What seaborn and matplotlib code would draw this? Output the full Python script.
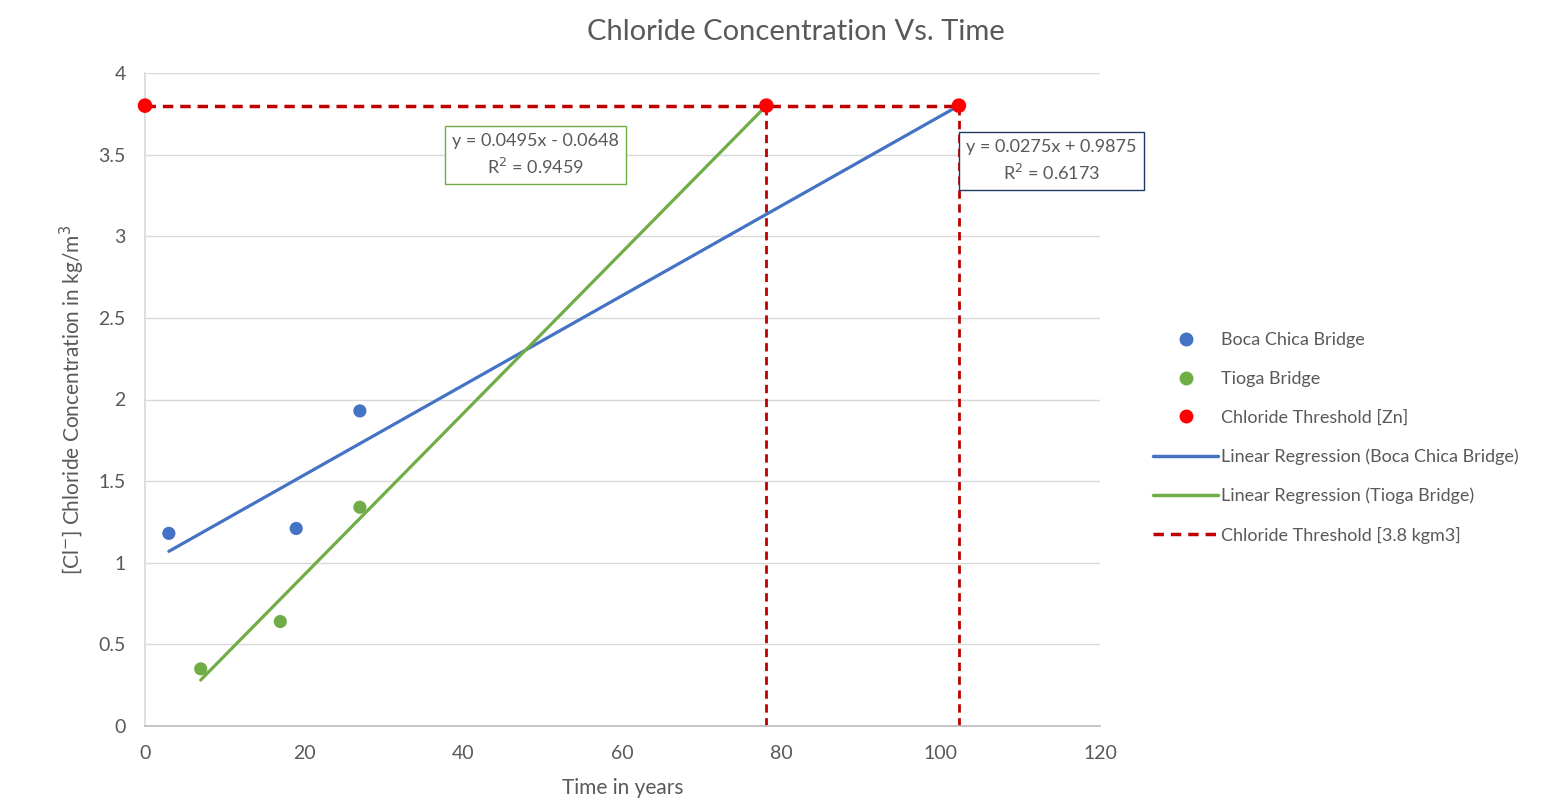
import matplotlib
matplotlib.use("Agg")
import matplotlib.pyplot as plt
import seaborn as sns
import numpy as np
import pandas as pd
from matplotlib.lines import Line2D

# ---- data ----
boca_years = [3, 19, 27]
boca_cl = [1.18, 1.21, 1.93]
tioga_years = [7, 17, 27]
tioga_cl = [0.35, 0.64, 1.34]
threshold_years = [0, 78.08, 102.27]
threshold_cl = [3.8, 3.8, 3.8]

boca_fit = (0.0275, 0.9875)     # slope, intercept
tioga_fit = (0.0495, -0.0648)
boca_fit_range = [3, 102.27]
tioga_fit_range = [7, 78.08]
threshold = 3.8

x_ticks = [0, 20, 40, 60, 80, 100, 120]
y_ticks = [0, 0.5, 1, 1.5, 2, 2.5, 3, 3.5, 4]

sns.set_theme(style="white")
plt.rcParams['font.family'] = ['Lato', 'DejaVu Sans']

TXT = "#595959"
BLUE = "#4472C4"
GREEN = "#70AD47"
RED = "#FF0000"
DRED = "#C00000"

fig = plt.figure(figsize=(15.5, 8.02), dpi=100)
ax = fig.add_axes([145/1550, 1-726/802, (1100-145)/1550, (726-73)/802])

# regression lines
bx = np.array(boca_fit_range)
tx = np.array(tioga_fit_range)
sns.lineplot(x=bx, y=boca_fit[0]*bx + boca_fit[1], ax=ax, color=BLUE, lw=2.3, zorder=3)
sns.lineplot(x=tx, y=tioga_fit[0]*tx + tioga_fit[1], ax=ax, color=GREEN, lw=2.3, zorder=3)

# threshold dashed lines
ax.plot([threshold_years[0], threshold_years[-1]], [threshold, threshold], color=DRED,
        lw=2.5, ls=(0, (3, 2)), zorder=2)
for xv in threshold_years[1:]:
    ax.plot([xv, xv], [0, threshold], color=DRED, lw=2, ls=(0, (3, 2)), zorder=2)

# points
sns.scatterplot(x=boca_years, y=boca_cl, ax=ax, color=BLUE, s=90, edgecolor='none', zorder=4)
sns.scatterplot(x=tioga_years, y=tioga_cl, ax=ax, color=GREEN, s=90, edgecolor='none', zorder=4)
sns.scatterplot(x=threshold_years, y=threshold_cl, ax=ax, color=RED, s=110, edgecolor='none',
                zorder=5, clip_on=False)

ax.set_xlim(0, 120)
ax.set_ylim(0, 4)
ax.set_xticks(x_ticks)
ax.set_yticks(y_ticks)
ax.set_xticklabels([str(v) for v in x_ticks])
ax.set_yticklabels([f"{v:g}" for v in y_ticks])
ax.tick_params(axis='both', colors=TXT, labelsize=14, length=0)
ax.tick_params(axis='x', pad=14)
ax.tick_params(axis='y', pad=14)
ax.yaxis.grid(True, color="#D9D9D9", lw=1)
ax.xaxis.grid(False)
for s in ['top', 'right']:
    ax.spines[s].set_visible(False)
ax.spines['left'].set_color("#D9D9D9")
ax.spines['bottom'].set_color("#BFBFBF")

ax.set_xlabel("Time in years", color=TXT, fontsize=15, labelpad=11)
ax.set_ylabel("[Cl$^{-}$] Chloride Concentration in kg/m$^3$", color=TXT, fontsize=15, labelpad=8)
ax.set_title("Chloride Concentration Vs. Time", color=TXT, fontsize=21, pad=24,
             x=(796-145)/955)

# equation boxes
ax.text(49.1, 3.50, "y = 0.0495x - 0.0648\nR$^2$ = 0.9459", ha='center', va='center',
        fontsize=13, color=TXT, linespacing=1.45,
        bbox=dict(boxstyle='square,pad=0.4', fc='white', ec=GREEN, lw=1))
ax.text(113.9, 3.46, "y = 0.0275x + 0.9875\nR$^2$ = 0.6173", ha='center', va='center',
        fontsize=13, color=TXT, linespacing=1.45, clip_on=False,
        bbox=dict(boxstyle='square,pad=0.4', fc='white', ec="#1F3864", lw=1))

handles = [
    Line2D([], [], ls='none', marker='o', color=BLUE, ms=9),
    Line2D([], [], ls='none', marker='o', color=GREEN, ms=9),
    Line2D([], [], ls='none', marker='o', color=RED, ms=9),
    Line2D([], [], color=BLUE, lw=2.5),
    Line2D([], [], color=GREEN, lw=2.5),
    Line2D([], [], color=DRED, lw=2.5, ls=(0, (3, 2))),
]
labels = ["Boca Chica Bridge", "Tioga Bridge", "Chloride Threshold [Zn]",
          "Linear Regression (Boca Chica Bridge)", "Linear Regression (Tioga Bridge)",
          "Chloride Threshold [3.8 kgm3]"]
leg = fig.legend(handles, labels, loc='center left', bbox_to_anchor=(1137/1550, 1-438/802),
                 frameon=False, fontsize=13, handlelength=3.6, handletextpad=0.15,
                 labelspacing=1.25, labelcolor=TXT)

fig.savefig("out.png", dpi=100)
